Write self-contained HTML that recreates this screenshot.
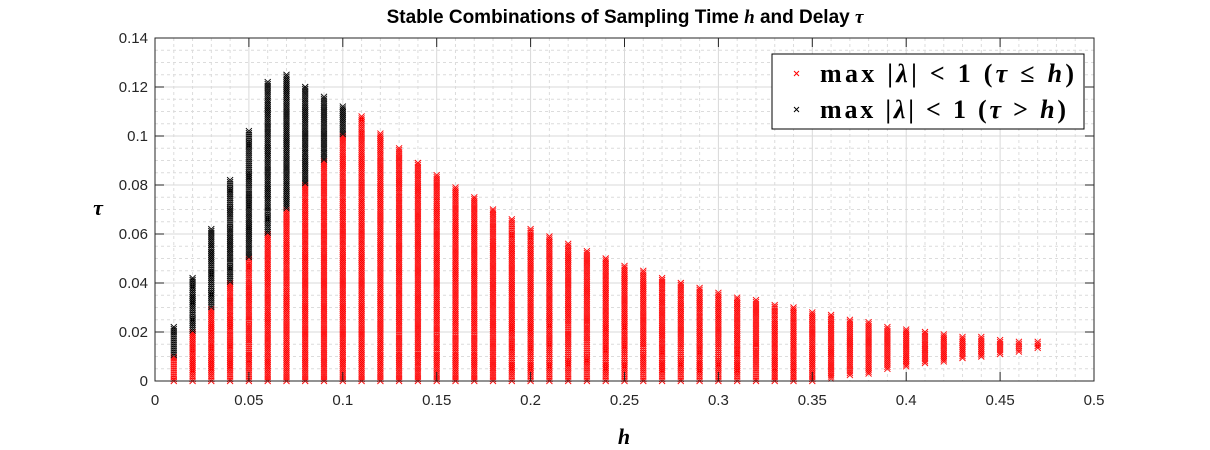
<!DOCTYPE html>
<html><head><meta charset="utf-8"><style>
body{margin:0;background:#fff;}
svg{display:block;font-family:"Liberation Sans",sans-serif;}
</style></head><body>
<svg id="c" width="1210" height="450">
<rect width="1210" height="450" fill="#fff"/>
<g id="grid"></g>
<g id="marks"></g>
<g id="axes"></g>
<text x="625" y="23" text-anchor="middle" font-size="19" font-weight="bold" fill="#000">Stable Combinations of Sampling Time <tspan font-family="'Liberation Serif',serif" font-style="italic">h</tspan> and Delay <tspan font-family="'Liberation Serif',serif" font-style="italic">τ</tspan></text>
<text x="624" y="444" text-anchor="middle" font-family="'Liberation Serif',serif" font-weight="bold" font-style="italic" font-size="22">h</text>
<text x="98" y="215" text-anchor="middle" font-family="'Liberation Serif',serif" font-weight="bold" font-style="italic" font-size="22">τ</text>
<g>
<rect x="772" y="54" width="312" height="75" fill="#fff" stroke="#000" stroke-width="1"/>
<g>
<path d="M794,71l5,5M799,71l-5,5" stroke="#f00" stroke-width="1"/>
<text x="820" y="82" font-family="'Liberation Serif',serif" font-weight="bold" font-size="26" textLength="254" lengthAdjust="spacing">max |<tspan font-style="italic">λ</tspan>| &lt; 1 (<tspan font-style="italic">τ</tspan> ≤ <tspan font-style="italic">h</tspan>)</text>
</g>
<g>
<path d="M794,107l5,5M799,107l-5,5" stroke="#000" stroke-width="1"/>
<text x="820" y="118" font-family="'Liberation Serif',serif" font-weight="bold" font-size="26" textLength="246" lengthAdjust="spacing">max |<tspan font-style="italic">λ</tspan>| &lt; 1 (<tspan font-style="italic">τ</tspan> &gt; <tspan font-style="italic">h</tspan>)</text>
</g>
</g>
</svg>
<script>
const hValues=[0.01,0.02,0.03,0.04,0.05,0.06,0.07,0.08,0.09,0.10,0.11,0.12,0.13,0.14,0.15,0.16,0.17,0.18,0.19,0.20,0.21,0.22,0.23,0.24,0.25,0.26,0.27,0.28,0.29,0.30,0.31,0.32,0.33,0.34,0.35,0.36,0.37,0.38,0.39,0.40,0.41,0.42,0.43,0.44,0.45,0.46,0.47];
const tauMax=[0.022,0.042,0.062,0.082,0.102,0.122,0.125,0.120,0.116,0.112,0.108,0.101,0.095,0.089,0.084,0.079,0.075,0.070,0.066,0.062,0.059,0.056,0.053,0.050,0.047,0.045,0.042,0.040,0.038,0.036,0.034,0.033,0.031,0.030,0.028,0.027,0.025,0.024,0.022,0.021,0.020,0.019,0.018,0.018,0.0167,0.016,0.016];
const tauMin=[0,0,0,0,0,0,0,0,0,0,0,0,0,0,0,0,0,0,0,0,0,0,0,0,0,0,0,0,0,0,0,0,0,0,0,0.001,0.0024,0.003,0.005,0.006,0.0073,0.008,0.0094,0.010,0.011,0.012,0.0135];
const xTicks=[0,0.05,0.1,0.15,0.2,0.25,0.3,0.35,0.4,0.45,0.5];
const xTickLabels=["0","0.05","0.1","0.15","0.2","0.25","0.3","0.35","0.4","0.45","0.5"];
const yTicks=[0,0.02,0.04,0.06,0.08,0.1,0.12,0.14];
const yTickLabels=["0","0.02","0.04","0.06","0.08","0.1","0.12","0.14"];
const X0=155,X1=1094,Y0=381,Y1=38;
const sx=v=>X0+(v-0)/(0.5)*(X1-X0);
const sy=v=>Y0-(v/0.14)*(Y0-Y1);
const NS="http://www.w3.org/2000/svg";
function mk(tag,attrs,parent){const e=document.createElementNS(NS,tag);for(const k in attrs)e.setAttribute(k,attrs[k]);parent.appendChild(e);return e;}
const grid=document.getElementById('grid'),marks=document.getElementById('marks'),axes=document.getElementById('axes');
for(let i=1;i<50;i++){if(i%5===0)continue;const x=sx(i*0.01);mk('line',{x1:x,x2:x,y1:Y1,y2:Y0,stroke:'#dcdcdc','stroke-dasharray':'3,3','stroke-width':1},grid);}
for(let i=1;i<28;i++){if(i%4===0)continue;const y=sy(i*0.005);mk('line',{x1:X0,x2:X1,y1:y,y2:y,stroke:'#dcdcdc','stroke-dasharray':'3,3','stroke-width':1},grid);}
xTicks.forEach(v=>{const x=sx(v);mk('line',{x1:x,x2:x,y1:Y1,y2:Y0,stroke:'#d9d9d9','stroke-width':1},grid);});
yTicks.forEach(v=>{const y=sy(v);mk('line',{x1:X0,x2:X1,y1:y,y2:y,stroke:'#d9d9d9','stroke-width':1},grid);});
let redD='',blackD='';
hValues.forEach((h,i)=>{
  const x=sx(h);
  const n=Math.max(1,Math.round((tauMax[i]-tauMin[i])/0.0008));
  for(let k=0;k<=n;k++){
    const t=tauMin[i]+(tauMax[i]-tauMin[i])*(k/n);
    const y=sy(t);
    const d=`M${(x-3).toFixed(1)},${(y-3).toFixed(1)}l6,6m0,-6l-6,6`;
    if(t<=h+1e-9)redD+=d;else blackD+=d;
  }
});
const red=mk('path',{d:redD,stroke:'#f00','stroke-width':0.9,fill:'none'},marks);


const blk=mk('path',{d:blackD,stroke:'#000','stroke-width':0.9,fill:'none'},marks);


mk('rect',{x:X0,y:Y1,width:X1-X0,height:Y0-Y1,fill:'none',stroke:'#262626','stroke-width':1},axes);
xTicks.forEach((v,i)=>{const x=sx(v);mk('line',{x1:x,x2:x,y1:Y0,y2:Y0-9,stroke:'#262626'},axes);mk('line',{x1:x,x2:x,y1:Y1,y2:Y1+9,stroke:'#262626'},axes);
  const t=mk('text',{x:x,y:Y0+24,'text-anchor':'middle','font-size':15,fill:'#262626'},axes);t.textContent=xTickLabels[i];
  
  });
yTicks.forEach((v,i)=>{const y=sy(v);mk('line',{x1:X0,x2:X0+9,y1:y,y2:y,stroke:'#262626'},axes);mk('line',{x1:X1,x2:X1-9,y1:y,y2:y,stroke:'#262626'},axes);
  const t=mk('text',{x:X0-7,y:y+5,'text-anchor':'end','font-size':15,fill:'#262626'},axes);t.textContent=yTickLabels[i];
  
  });
</script>
</body></html>
